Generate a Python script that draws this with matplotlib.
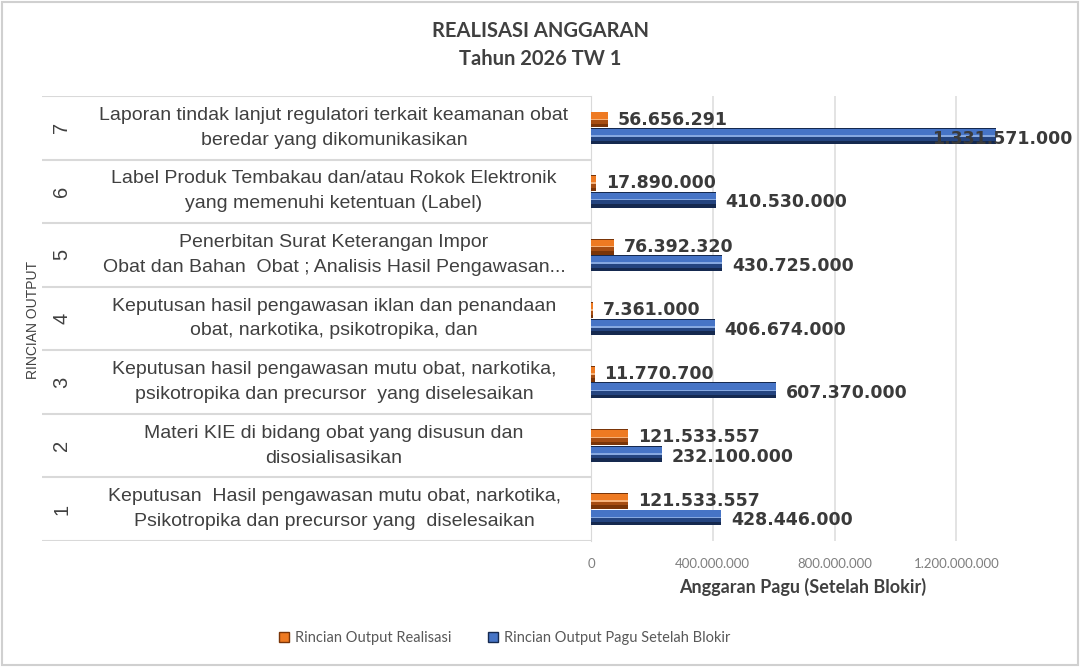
import matplotlib.pyplot as plt
from matplotlib.patches import Rectangle, Patch
from matplotlib.ticker import FuncFormatter

# data
rows = [1, 2, 3, 4, 5, 6, 7]
row_labels = [
    "Keputusan  Hasil pengawasan mutu obat, narkotika,\nPsikotropika dan precursor yang  diselesaikan",
    "Materi KIE di bidang obat yang disusun dan\ndisosialisasikan",
    "Keputusan hasil pengawasan mutu obat, narkotika,\npsikotropika dan precursor  yang diselesaikan",
    "Keputusan hasil pengawasan iklan dan penandaan\nobat, narkotika, psikotropika, dan",
    "Penerbitan Surat Keterangan Impor\nObat dan Bahan  Obat ; Analisis Hasil Pengawasan...",
    "Label Produk Tembakau dan/atau Rokok Elektronik\nyang memenuhi ketentuan (Label)",
    "Laporan tindak lanjut regulatori terkait keamanan obat\nberedar yang dikomunikasikan",
]
realisasi = [121533557, 121533557, 11770700, 7361000, 76392320, 17890000, 56656291]
pagu = [428446000, 232100000, 607370000, 406674000, 430725000, 410530000, 1331571000]
x_ticks = [0, 400000000, 800000000, 1200000000]

W, H = 1080, 667
fig = plt.figure(figsize=(W / 100, H / 100), dpi=100)

def fx(px):
    return px / W

def fy(py):
    return 1 - py / H

top, bot = 96, 541
XMAX = 1.59e9
ax = fig.add_axes([fx(591), fy(bot), fx(1075) - fx(591), fy(top) - fy(bot)])
tab = fig.add_axes([fx(42), fy(bot), fx(591) - fx(42), fy(top) - fy(bot)])

off = 0.13
h = 0.26

def fmt(v):
    return f"{v:,.0f}".replace(",", ".")

y_or = [r + off for r in rows]
y_bl = [r - off for r in rows]

# bars with a bevel look: dark lower half, bright upper half, light line in between
def bevel(ys, vals, dark, mid, main, light):
    ax.barh(ys, vals, height=h * 0.96, color=dark, edgecolor="none", zorder=3)
    ax.barh([y - h * 0.12 for y in ys], vals, height=h * 0.3, color=mid,
            edgecolor="none", zorder=4)
    ax.barh([y + h * 0.22 for y in ys], vals, height=h * 0.42, color=main,
            edgecolor="none", zorder=4)
    ax.barh([y + h * 0.0 for y in ys], vals, height=h * 0.1, color=light,
            edgecolor="none", zorder=5)

bevel(y_or, realisasi, "#7a3508", "#a64d12", "#ee7a22", "#f6b27a")
bevel(y_bl, pagu, "#15294f", "#24447f", "#4674c6", "#86a8e0")

lab_kw = dict(fontsize=12.5, fontweight="bold", color="#3a3a3a", family="DejaVu Sans", zorder=6)
for y, v in zip(y_or, realisasi):
    ax.annotate(fmt(v), (v, y), xytext=(7, 0), textcoords="offset points",
                ha="left", va="center", **lab_kw)
for y, v in zip(y_bl, pagu):
    if v > 1.2e9:
        ax.annotate(fmt(v), (XMAX, y), xytext=(-2, -2), textcoords="offset points",
                    ha="right", va="center", **lab_kw)
    else:
        ax.annotate(fmt(v), (v, y), xytext=(7, -2), textcoords="offset points",
                    ha="left", va="center", **lab_kw)

ax.set_xlim(0, XMAX)
ax.set_ylim(0.5, 7.5)
ax.set_yticks([])
ax.set_xticks(x_ticks)
ax.xaxis.set_major_formatter(FuncFormatter(lambda v, p: fmt(v)))
ax.tick_params(axis="x", length=0, pad=12, labelsize=9.5, labelcolor="#7f7f7f")
for t in ax.get_xticklabels():
    t.set_family("Lato")
ax.grid(axis="x", color="#dedede", lw=1.2, zorder=0)
for s in ["top", "right", "bottom"]:
    ax.spines[s].set_visible(False)
ax.spines["left"].set_color("#d9d9d9")
ax.set_xlabel("Anggaran Pagu (Setelah Blokir)", fontsize=13, fontweight="bold",
              color="#404040", family="Lato")
ax.xaxis.set_label_coords((803 - 591) / (1075 - 591), -0.083)

# category table on the left
tab.set_xlim(0, 1)
tab.set_ylim(0.5, 7.5)
tab.axis("off")
for b in [0.5 + i for i in range(8)]:
    tab.axhline(b, color="#d9d9d9", lw=1.5)
tx = (334 - 42) / (591 - 42)
nx = (62 - 42) / (591 - 42)
for r, lab in zip(rows, row_labels):
    tab.text(tx, r, lab, ha="center", va="center", fontsize=14, color="#404040",
             family="Liberation Sans", linespacing=1.6)
    tab.text(nx, r, str(r), ha="center", va="center", rotation=90, fontsize=14.5,
             color="#404040", family="Liberation Sans")

fig.text(fx(33), fy(320), "RINCIAN OUTPUT", rotation=90, ha="center", va="center",
         fontsize=10, color="#404040", family="Liberation Sans")

fig.text(0.5, fy(31), "REALISASI ANGGARAN", ha="center", va="center", fontsize=14.5,
         fontweight="bold", color="#404040", family="Lato")
fig.text(0.5, fy(59), "Tahun 2026 TW 1", ha="center", va="center", fontsize=14.5,
         fontweight="bold", color="#404040", family="Lato")

handles = [Patch(facecolor="#ee7a22", edgecolor="#7a3508", label="Rincian Output Realisasi"),
           Patch(facecolor="#4674c6", edgecolor="#15294f", label="Rincian Output Pagu Setelah Blokir")]
fig.legend(handles=handles, loc="center", bbox_to_anchor=(fx(505), fy(638)), ncol=2,
           frameon=False, handlelength=0.7, handleheight=0.7,
           handletextpad=0.4, columnspacing=2.5, labelcolor="#595959",
           prop={"family": "Lato", "size": 10.5})

fig.patches.append(Rectangle((fx(2), fy(665)), fx(1076), fy(2) - fy(665), transform=fig.transFigure,
                             fill=False, edgecolor="#d0d0d0", lw=1.5))

fig.savefig("out.png", dpi=100)
